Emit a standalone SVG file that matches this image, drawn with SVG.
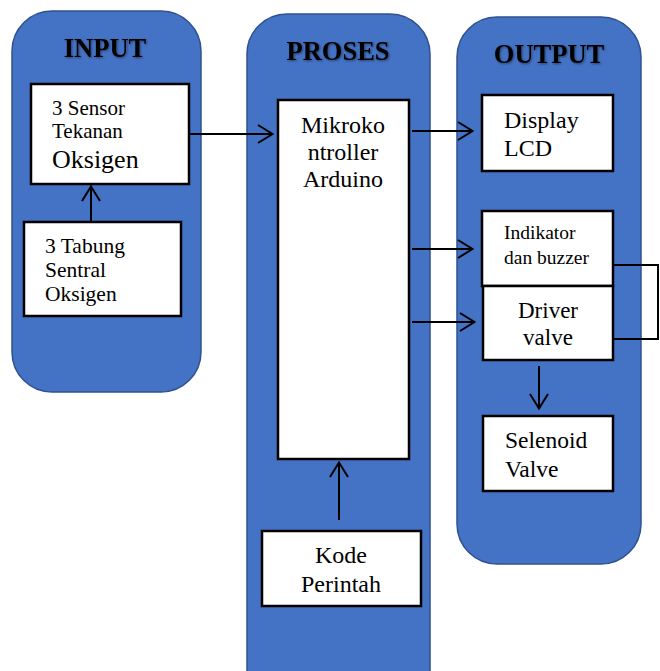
<svg xmlns="http://www.w3.org/2000/svg" width="660" height="671" viewBox="0 0 660 671">
<defs>
<style>
.panel{fill:#4472C4;stroke:#2F528F;stroke-width:1.5}
.box{fill:#fff;stroke:#000;stroke-width:2.5}
text{font-family:'Liberation Serif','Times New Roman',Tinos,'DejaVu Serif',serif;fill:#000}
.title{font-weight:bold;font-size:26.5px;text-anchor:middle;filter:url(#sh)}
.c{text-anchor:middle}
.ln{fill:none;stroke:#000;stroke-width:2}
</style>
<filter id="sh" x="-10%" y="-30%" width="120%" height="160%">
<feDropShadow dx="1" dy="1" stdDeviation="1" flood-color="#000" flood-opacity="0.45"/>
</filter>
<marker id="ah" viewBox="0 0 17 20" refX="16" refY="10" markerWidth="17" markerHeight="20" markerUnits="userSpaceOnUse" orient="auto">
<path d="M1,1 L15.5,10 L1,19" fill="none" stroke="#000" stroke-width="2"/>
</marker>
</defs>
<rect width="660" height="671" fill="#fff"/>
<g id="panel-input"><rect class="panel" x="12" y="11" width="189" height="381" rx="40"/><text class="title" x="105" y="57">INPUT</text></g>
<g id="panel-proses"><rect class="panel" x="247" y="14" width="183" height="700" rx="40"/><text class="title" x="338" y="60">PROSES</text></g>
<g id="panel-output"><rect class="panel" x="457" y="17" width="184" height="547" rx="40"/><text class="title" x="549" y="63">OUTPUT</text></g>

<g id="sensor"><rect class="box" x="31" y="84" width="158" height="100"/>
<text font-size="21" x="52" y="115">3 Sensor</text>
<text font-size="21" x="52" y="138">Tekanan</text>
<text font-size="26" x="52" y="168">Oksigen</text></g>

<g id="tabung"><rect class="box" x="24" y="222" width="157" height="94"/>
<text font-size="21.5" x="45" y="253">3 Tabung</text>
<text font-size="21.5" x="45" y="277">Sentral</text>
<text font-size="21.5" x="45" y="301">Oksigen</text></g>

<g id="mikro"><rect class="box" x="278" y="100" width="131" height="359"/>
<text class="c" font-size="24" x="343" y="133">Mikroko</text>
<text class="c" font-size="24" x="343" y="160">ntroller</text>
<text class="c" font-size="24" x="343" y="187">Arduino</text></g>

<g id="kode"><rect class="box" x="262" y="531" width="159" height="75"/>
<text class="c" font-size="24" x="341" y="563">Kode</text>
<text class="c" font-size="24" x="341" y="592">Perintah</text></g>

<g id="display"><rect class="box" x="482" y="95" width="131" height="76"/>
<text font-size="24" x="504" y="128">Display</text>
<text font-size="24" x="504" y="156">LCD</text></g>

<g id="indikator"><rect class="box" x="482" y="211" width="131" height="75"/>
<text font-size="19.5" x="504" y="239">Indikator</text>
<text font-size="19.5" x="504" y="264">dan buzzer</text></g>

<g id="driver"><rect class="box" x="483" y="286" width="130" height="74"/>
<text class="c" font-size="23" x="548" y="318">Driver</text>
<text class="c" font-size="23" x="548" y="345">valve</text></g>

<g id="selenoid"><rect class="box" x="483" y="416" width="130" height="75"/>
<text font-size="23.5" x="505" y="448">Selenoid</text>
<text font-size="23.5" x="505" y="477">Valve</text></g>

<g id="connectors">
<line class="ln" x1="91" y1="222" x2="91" y2="186" marker-end="url(#ah)"/>
<line class="ln" x1="189" y1="134" x2="273" y2="134" marker-end="url(#ah)"/>
<line class="ln" x1="339" y1="520" x2="339" y2="462" marker-end="url(#ah)"/>
<line class="ln" x1="412" y1="131" x2="473" y2="131" marker-end="url(#ah)"/>
<line class="ln" x1="412" y1="249" x2="473" y2="249" marker-end="url(#ah)"/>
<line class="ln" x1="412" y1="322" x2="475" y2="322" marker-end="url(#ah)"/>
<line class="ln" x1="539" y1="366" x2="539" y2="409" marker-end="url(#ah)"/>
<polyline class="ln" points="613,265 658,265 658,339 613,339"/>
</g>
</svg>
